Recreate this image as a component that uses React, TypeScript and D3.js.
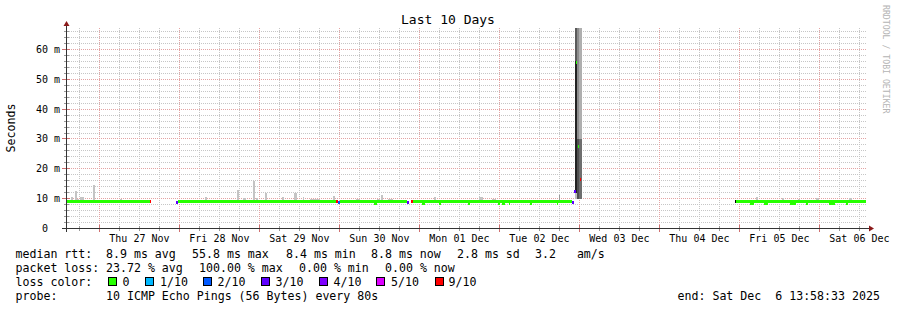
import React from 'react';
import * as d3 from 'd3';

// ---------- data ----------
const START = new Date(2025, 10, 26, 13, 58, 33);
const END = new Date(2025, 11, 6, 13, 58, 33);
const TITLE = 'Last 10 Days';
const Y_LABEL = 'Seconds';

const yTickValues = [0, 10, 20, 30, 40, 50, 60];
const yTickLabels = ['0  ', '10 m', '20 m', '30 m', '40 m', '50 m', '60 m'];

const lossLevels = [0, 1, 2, 3, 4, 5, 9];
const lossLabels = ['0', '1/10', '2/10', '3/10', '4/10', '5/10', '9/10'];
const lossColors = ['#26ff00', '#00b8ff', '#0059ff', '#5e00ff', '#7e00ff', '#dd00ff', '#ff0000'];

// median rtt segments (hours since start, ms, lost pings of 10)
const medStart = [0, 25.1, 32.9, 33.6, 81.0, 81.6, 82.1, 102.2, 103.4, 104.0, 151.7, 152.4, 152.9, 153.5, 154.1, 200.6, 200.9];
const medEnd = [25.1, 25.5, 33.6, 81.0, 81.6, 82.1, 102.2, 102.8, 104.0, 151.7, 152.3, 152.85, 153.4, 153.9, 154.5, 200.9, 240];
const medValue = [8.9, 8.9, 8.7, 8.9, 8.9, 8.6, 8.9, 8.7, 9.1, 8.9, 8.7, 12.4, 55.6, 27.5, 16.5, 8.9, 8.9];
const medLoss = [0, 9, 3, 0, 9, 2, 0, 3, 9, 0, 3, 3, 0, 0, 9, 10, 0];

// short dips of the median (hours since start, ms)
const dipStart = [92.4, 106.8, 111.9, 120.6, 129.6, 130.8, 132.9, 139.2, 147.3, 205.2, 209.4, 217.2, 222.0, 228.9, 234.0];
const dipEnd = [93.3, 107.7, 112.5, 121.2, 130.2, 131.7, 133.2, 139.8, 147.6, 206.4, 210.6, 219.0, 222.6, 230.7, 234.6];
const dipValue = [8.4, 8.5, 8.5, 8.5, 8.5, 8.5, 8.5, 8.5, 8.5, 8.5, 8.5, 8.5, 8.5, 8.5, 8.5];

// smoke (ping spread) bars: hours since start, top in ms
const smokeStart = [1.5, 2.7, 3.3, 4.2, 8.1, 10.8, 16.2, 18.9, 41.7, 43.8, 48.0, 51.3, 53.1, 56.1, 57.0, 59.7, 64.8, 68.4, 71.1, 80.1, 94.5, 110.4, 123.9, 207.0, 214.8, 219.6, 225.0, 234.9,
  0, 9.3, 13.8, 33.9, 37.8, 45.3, 48.9, 58.2, 64.2, 73.2, 77.7, 87.0, 90.9, 93.3, 96.6, 103.8, 111.9, 115.5, 119.4, 121.5, 122.7, 127.8, 136.2, 144.0, 203.4, 217.2, 229.2, 236.7];
const smokeEnd = [2.1, 3.3, 3.9, 5.4, 8.7, 11.4, 16.8, 19.5, 42.3, 44.4, 48.6, 51.9, 54.0, 56.7, 57.6, 60.3, 65.4, 69.3, 71.4, 80.7, 95.1, 111.0, 125.1, 207.6, 215.4, 220.2, 225.9, 235.8,
  0.6, 9.9, 14.7, 34.8, 38.7, 45.9, 49.8, 59.7, 66.0, 76.2, 79.2, 88.2, 91.5, 94.2, 98.1, 105.3, 112.8, 116.7, 120.0, 122.1, 126.3, 129.0, 136.8, 145.2, 204.6, 218.7, 230.4, 238.2];
const smokeTop = [10.7, 12.7, 10.0, 10.7, 14.7, 9.7, 9.9, 9.6, 10.7, 9.7, 9.7, 13.0, 10.1, 16.0, 10.2, 11.8, 10.7, 11.8, 10.7, 11.0, 11.3, 10.7, 10.7, 10.7, 10.3, 9.9, 10.3, 10.3,
  9.7, 9.7, 9.7, 9.7, 9.7, 9.7, 9.7, 9.7, 9.7, 9.9, 9.7, 9.8, 9.7, 9.9, 9.9, 9.7, 9.7, 9.7, 9.7, 9.7, 9.7, 10.0, 9.7, 9.7, 9.7, 9.7, 9.7, 9.7];
// darker single smoke line
const darkSmokeStart = [147.9];
const darkSmokeEnd = [148.2];
const darkSmokeTop = [11.3];

// the big spike: hours, low ms, high ms, grey level
const spikeStart = [152.7, 152.7, 152.7, 153.3, 153.3, 153.9, 153.9];
const spikeEnd = [153.3, 153.3, 153.3, 153.9, 153.9, 154.8, 154.8];
const spikeLow = [12.0, 56.0, 9.8, 9.8, 30.0, 9.8, 30.0];
const spikeHigh = [56.0, 67.2, 12.0, 30.0, 67.2, 30.0, 67.2];
const spikeGrey = [34, 90, 190, 80, 140, 110, 175];

const rttStats = ['8.9 ms avg', '55.8 ms max', '8.4 ms min', '8.8 ms now', '2.8 ms sd', '3.2   am/s'];
const lossStats = ['23.72 % avg', '100.00 % max', '0.00 % min', '0.00 % now'];
const probeText = '10 ICMP Echo Pings (56 Bytes) every 80s';
const endText = 'end: Sat Dec  6 13:58:33 2025';

// ---------- layout ----------
const W = 897, H = 310;
const FONT = '"DejaVu Sans Mono", monospace';
const rttX = [106, 192, 286, 371, 457, 535];
const lossX = [106, 199, 299, 385];
const swatchX = [108.5, 145.5, 203.5, 261.5, 319.5, 376.5, 435.5];
const swatchLabelX = [122.5, 160, 217.5, 275.5, 333.5, 391, 448.5];

const nb = (s: string) => s.replace(/ /g, '\u00a0');

export default function App() {
  const x = d3.scaleTime().domain([START, END]).range([66, 866]);
  const y = d3.scaleLinear().domain([0, 67.2]).range([228.5, 28]);
  const t = (h: number) => new Date(+START + h * 3600e3);
  const snap = (v: number) => Math.floor(v) + 0.5;
  const colorFor = (loss: number) => {
    const i = lossLevels.indexOf(loss);
    return i >= 0 ? lossColors[i] : '#000000';
  };

  const dayLines = d3.timeDay.range(START, END);
  const sixHour = d3.timeHour.every(6)!.range(START, END).filter(d => d.getHours() !== 0);
  const labelDays = d3.timeDay
    .range(d3.timeDay.floor(START), END)
    .map(d => d3.timeHour.offset(d, 12))
    .filter(d => d >= START && d <= END);
  const fmt = d3.timeFormat('%a %d %b');
  const minorY = d3.range(2, 67, 2).filter(v => v % 10 !== 0);
  const majorY = yTickValues.filter(v => v > 0);

  const X0 = 66.5, X1 = 866;
  const yTop = 28;
  const yBase = y(0);

  const rectFor = (s: number, e: number, lo: number, hi: number) => {
    const xa = Math.round(x(t(s)));
    const xb = Math.max(xa + 1, Math.round(x(t(e))));
    const ya = Math.round(y(hi));
    const yb = Math.round(y(lo));
    return { x: xa, y: ya, width: xb - xa, height: Math.max(1, yb - ya) };
  };
  const medRect = (s: number, e: number, v: number) => {
    const xa = Math.round(x(t(s)));
    const xb = Math.max(xa + 1, Math.round(x(t(e))));
    const yc = y(v);
    return { x: xa, y: Math.round(yc - 1.5), width: xb - xa, height: 3 };
  };

  return (
    <>
      <style>{'body{margin:0}'}</style>
      <svg width={W} height={H} style={{ display: 'block', background: '#fff' }} fontFamily={FONT}>
        <rect x={0} y={0} width={W} height={H} fill="#ffffff" />
        {/* grid */}
        <g shapeRendering="crispEdges">
          {minorY.map(v => (
            <line key={'my' + v} x1={67} x2={X1} y1={snap(y(v))} y2={snap(y(v))} stroke="#c6c6c6" strokeDasharray="1,1" />
          ))}
          {sixHour.map(d => (
            <line key={'mx' + +d} x1={snap(x(d))} x2={snap(x(d))} y1={yTop} y2={yBase} stroke="#c6c6c6" strokeDasharray="1,1" />
          ))}
          {majorY.map(v => (
            <line key={'My' + v} x1={67} x2={X1} y1={snap(y(v))} y2={snap(y(v))} stroke="#e4a3a3" strokeDasharray="1,1" />
          ))}
          {dayLines.map(d => (
            <line key={'Mx' + +d} x1={snap(x(d))} x2={snap(x(d))} y1={yTop} y2={yBase} stroke="#e4a3a3" strokeDasharray="1,1" />
          ))}
        </g>
        {/* smoke */}
        <g shapeRendering="crispEdges">
          {smokeStart.map((s, i) => (
            <rect key={'s' + i} {...rectFor(s, smokeEnd[i], 8.9, smokeTop[i])} fill="#c4c4c4" />
          ))}
          {darkSmokeStart.map((s, i) => (
            <rect key={'ds' + i} {...rectFor(s, darkSmokeEnd[i], 8.9, darkSmokeTop[i])} fill="#9a9a9a" />
          ))}
          {spikeStart.map((s, i) => (
            <rect key={'sp' + i} {...rectFor(s, spikeEnd[i], spikeLow[i], spikeHigh[i])} fill={d3.rgb(spikeGrey[i], spikeGrey[i], spikeGrey[i]).formatHex()} />
          ))}
        </g>
        {/* median */}
        <g shapeRendering="crispEdges">
          {medStart.map((s, i) => (
            <rect key={'m' + i} {...medRect(s, medEnd[i], medValue[i])} fill={colorFor(medLoss[i])} />
          ))}
          {dipStart.map((s, i) => (
            <rect key={'d' + i} {...medRect(s, dipEnd[i], dipValue[i])} fill={lossColors[0]} />
          ))}
        </g>
        {/* axes */}
        <g shapeRendering="crispEdges">
          {minorY.map(v => (
            <line key={'ty' + v} x1={64} x2={69} y1={snap(y(v))} y2={snap(y(v))} stroke="#9a9a9a" />
          ))}
          {majorY.map(v => (
            <line key={'Ty' + v} x1={62} x2={70} y1={snap(y(v))} y2={snap(y(v))} stroke="#d07070" />
          ))}
          {sixHour.map(d => (
            <line key={'tx' + +d} x1={snap(x(d))} x2={snap(x(d))} y1={226} y2={231} stroke="#9a9a9a" />
          ))}
          {dayLines.map(d => (
            <line key={'Tx' + +d} x1={snap(x(d))} x2={snap(x(d))} y1={225} y2={232} stroke="#d07070" />
          ))}
          <line x1={X0} x2={X0} y1={24} y2={232} stroke="#333" />
          <line x1={62} x2={870} y1={228.5} y2={228.5} stroke="#333" />
        </g>
        <polygon points="63.5,26 69.5,26 66.5,21" fill="#8b1a1a" />
        <polygon points="869,225.5 869,231.5 874,228.5" fill="#8b1a1a" />

        {/* texts */}
        <text x={448} y={24} textAnchor="middle" fontSize={13} fill="#000">{TITLE}</text>
        {yTickValues.map((v, i) => (
          <text key={'yl' + v} x={60} y={snap(y(v)) + 3.5} textAnchor="end" fontSize={10} fill="#000">{nb(yTickLabels[i])}</text>
        ))}
        {labelDays.map(d => (
          <text key={'xl' + +d} x={x(d)} y={242} textAnchor="middle" fontSize={10} fill="#000">{fmt(d)}</text>
        ))}
        <text transform="translate(15,128) rotate(-90)" textAnchor="middle" fontSize={11.6} fill="#000">{Y_LABEL}</text>
        <text transform="translate(883,5) rotate(90)" textAnchor="start" fontSize={8.2} fill="#b4b4b4">RRDTOOL / TOBI OETIKER</text>

        <g fontSize={11.6} fill="#000">
          <text x={15.5} y={258}>{nb('median rtt:')}</text>
          {rttStats.map((s, i) => <text key={'r' + i} x={rttX[i]} y={258}>{nb(s)}</text>)}
          <text x={15.5} y={272}>{nb('packet loss:')}</text>
          {lossStats.map((s, i) => <text key={'l' + i} x={lossX[i]} y={272}>{nb(s)}</text>)}
          <text x={15.5} y={286}>{nb('loss color:')}</text>
          {lossLabels.map((s, i) => (
            <g key={'lc' + i}>
              <rect x={swatchX[i]} y={277.5} width={8} height={8} fill={lossColors[i]} stroke="#000" shapeRendering="crispEdges" />
              <text x={swatchLabelX[i]} y={286}>{s}</text>
            </g>
          ))}
          <text x={15.5} y={300}>{nb('probe:')}</text>
          <text x={106} y={300}>{nb(probeText)}</text>
          <text x={677.5} y={300}>{nb(endText)}</text>
        </g>
      </svg>
    </>
  );
}
